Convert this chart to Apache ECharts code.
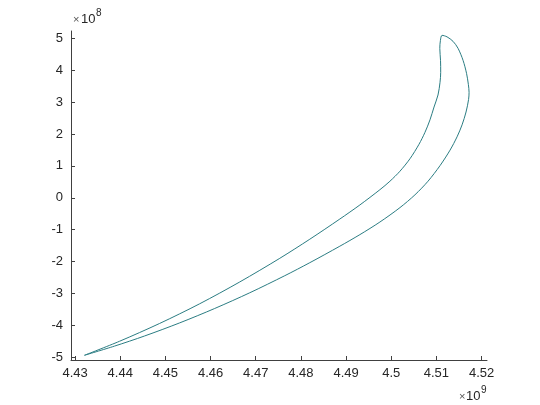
<!DOCTYPE html>
<html>
<head>
<meta charset="utf-8">
<script src="https://cdn.jsdelivr.net/npm/echarts@6/dist/echarts.min.js"></script>
<style>
  html, body { margin: 0; padding: 0; background: #fff; }
  #main { width: 540px; height: 405px; }
</style>
</head>
<body>
<div id="main"></div>
<script>
  // x in units of 1e9, y in units of 1e8 (as on the axes)
  // inner branch: left tip -> top tip
  var xInner = [4.43208, 4.43984, 4.44871, 4.45758, 4.46645, 4.47532, 4.48197, 4.48862, 4.49306, 4.49749,
                4.49971, 4.50193, 4.50415, 4.50614, 4.50747, 4.50858, 4.50947, 4.51035, 4.51080, 4.51095,
                4.51091, 4.51075, 4.51089, 4.51124];
  var yInner = [-4.937, -4.498, -3.940, -3.323, -2.639, -1.897, -1.298, -0.665, -0.223, 0.254,
                0.520, 0.834, 1.226, 1.677, 2.053, 2.445, 2.846, 3.223, 3.621, 3.934,
                4.310, 4.687, 4.937, 5.094];
  // outer branch: top tip -> left tip
  var xOuter = [4.51235, 4.51368, 4.51479, 4.51590, 4.51667, 4.51707, 4.51723, 4.51712, 4.51656, 4.51568,
                4.51457, 4.51302, 4.51080, 4.50814, 4.50525, 4.50193, 4.49749, 4.49306, 4.48862, 4.48197,
                4.47643, 4.46867, 4.46091, 4.45315, 4.44539, 4.43874, 4.43208];
  var yOuter = [5.047, 4.906, 4.687, 4.310, 3.903, 3.558, 3.307, 3.082, 2.690, 2.288,
                1.912, 1.495, 1.009, 0.520, 0.094, -0.307, -0.759, -1.154, -1.517, -2.034,
                -2.442, -2.978, -3.470, -3.922, -4.332, -4.649, -4.937];
  var xTicks = [4.43, 4.44, 4.45, 4.46, 4.47, 4.48, 4.49, 4.5, 4.51, 4.52];
  var yTicks = [-5, -4, -3, -2, -1, 0, 1, 2, 3, 4, 5];

  var pts = [];
  for (var i = 0; i < xInner.length; i++) pts.push([xInner[i], yInner[i]]);
  for (var j = 0; j < xOuter.length; j++) pts.push([xOuter[j], yOuter[j]]);

  var axisColor = '#404040';
  var txtColor = '#262626';
  var font = 'Liberation Sans, Arial, sans-serif';

  var chart = echarts.init(document.getElementById('main'));
  chart.setOption({
    backgroundColor: '#fff',
    animation: false,
    grid: { left: 71, right: 53, top: 31, bottom: 45, containLabel: false },
    xAxis: {
      type: 'value',
      min: 4.4291,
      max: 4.5212,
      axisLine: { show: true, onZero: false, lineStyle: { color: axisColor, width: 1 } },
      axisTick: { show: true, inside: true, length: 4, customValues: xTicks, lineStyle: { color: axisColor } },
      axisLabel: { customValues: xTicks, color: txtColor, fontSize: 13, fontFamily: font, margin: 7,
        formatter: function (v) { return String(+v.toFixed(2)); } },
      splitLine: { show: false }
    },
    yAxis: {
      type: 'value',
      min: -5.085,
      max: 5.23,
      axisLine: { show: true, onZero: false, lineStyle: { color: axisColor, width: 1 } },
      axisTick: { show: true, inside: true, length: 4, customValues: yTicks, lineStyle: { color: axisColor } },
      axisLabel: { customValues: yTicks, color: txtColor, fontSize: 13, fontFamily: font, margin: 8,
        formatter: function (v) { return String(Math.round(v)); } },
      splitLine: { show: false }
    },
    graphic: [
      { type: 'text', left: 73, top: 14, style: { text: '×', fill: '#555', fontSize: 11, fontFamily: font } },
      { type: 'text', left: 81, top: 13, style: { text: '10', fill: txtColor, fontSize: 13, fontFamily: font } },
      { type: 'text', left: 96, top: 8, style: { text: '8', fill: txtColor, fontSize: 10, fontFamily: font } },
      { type: 'text', left: 459, top: 391, style: { text: '×', fill: '#555', fontSize: 11, fontFamily: font } },
      { type: 'text', left: 466, top: 390, style: { text: '10', fill: txtColor, fontSize: 13, fontFamily: font } },
      { type: 'text', left: 481, top: 385, style: { text: '9', fill: txtColor, fontSize: 10, fontFamily: font } }
    ],
    series: [{
      type: 'line',
      data: pts,
      showSymbol: false,
      smooth: 0.3,
      lineStyle: { color: '#2b7d83', width: 1 }
    }]
  });
</script>
</body>
</html>
